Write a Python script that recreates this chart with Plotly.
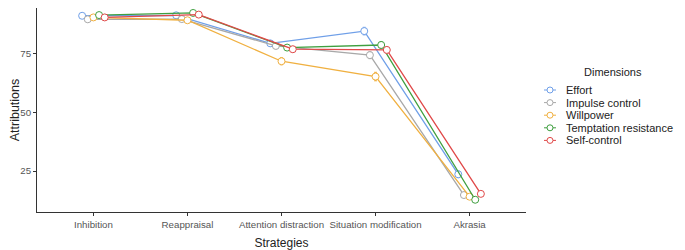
import plotly.graph_objects as go

strategies = ["Inhibition", "Reappraisal", "Attention distraction", "Situation modification", "Akrasia"]
dimensions = ["Effort", "Impulse control", "Willpower", "Temptation resistance", "Self-control"]
colors = ["#6f9fe8", "#a8a8a8", "#f0b040", "#3f9f3f", "#e04848"]

effort = [90.9, 91.1, 79.2, 84.4, 23.6]
impulse = [89.4, 89.5, 78.1, 74.2, 14.8]
willpower = [90.2, 89.0, 71.6, 65.1, 14.1]
temptation = [91.2, 92.1, 77.4, 78.5, 12.8]
selfcontrol = [90.2, 91.4, 76.7, 76.4, 15.3]

effort_se = [0.6, 0.6, 1.2, 1.6, 1.4]
impulse_se = [0.6, 0.6, 1.2, 1.5, 1.0]
willpower_se = [0.6, 0.6, 1.5, 1.8, 1.0]
temptation_se = [0.5, 0.5, 1.2, 1.4, 0.9]
selfcontrol_se = [0.6, 0.5, 1.2, 1.3, 0.9]

series = [effort, impulse, willpower, temptation, selfcontrol]
errors = [effort_se, impulse_se, willpower_se, temptation_se, selfcontrol_se]
dodge = [-0.12, -0.06, 0.0, 0.06, 0.12]

# the page body has an 8px default margin, so the figure is laid out 8px smaller
OFF = 8
W, H = 685 - OFF, 250 - OFF
ML, MR, MT, MB = 37 - OFF, 159, 0, 38
PW, PH = W - ML - MR, H - MT - MB


def px_x(p):
    return (p - OFF - ML) / PW


def px_y(p):
    return (H - MB - (p - OFF)) / PH


fig = go.Figure()
for name, vals, err, col, dx in zip(dimensions, series, errors, colors, dodge):
    fig.add_trace(go.Scatter(
        x=[i + 1 + dx for i in range(len(strategies))],
        y=vals,
        name=name,
        mode="lines+markers",
        line=dict(color=col, width=1.3),
        marker=dict(symbol="circle", size=7, color="white", line=dict(color=col, width=1)),
        error_y=dict(type="data", array=err, visible=True, color=col, thickness=1, width=1.5),
        showlegend=False,
    ))

# manual legend (compact, ggplot-like)
legend_top = 90
legend_gap = 12.6
shapes = []
annotations = [dict(
    x=px_x(613), y=px_y(72), xref="paper", yref="paper", text="Dimensions",
    showarrow=False, xanchor="center", yanchor="middle",
    font=dict(size=11, color="#222222"),
)]
for i, (name, col) in enumerate(zip(dimensions, colors)):
    yy = legend_top + i * legend_gap
    shapes.append(dict(type="line", xref="paper", yref="paper",
                       x0=px_x(544), x1=px_x(556), y0=px_y(yy), y1=px_y(yy),
                       line=dict(color=col, width=1)))
    shapes.append(dict(type="circle", xref="paper", yref="paper",
                       x0=px_x(547), x1=px_x(553), y0=px_y(yy - 3), y1=px_y(yy + 3),
                       fillcolor="white", line=dict(color=col, width=1)))
    annotations.append(dict(
        x=px_x(564), y=px_y(yy), xref="paper", yref="paper", text=name,
        showarrow=False, xanchor="left", yanchor="middle",
        font=dict(size=11, color="#222222"),
    ))

fig.update_layout(
    width=W, height=H,
    margin=dict(l=ML, r=MR, t=MT, b=MB),
    paper_bgcolor="white", plot_bgcolor="white",
    font=dict(family="Liberation Sans, Arial, sans-serif", size=10, color="#555555"),
    xaxis=dict(
        range=[0.4, 5.6], tickvals=[1, 2, 3, 4, 5], ticktext=strategies,
        showline=True, linecolor="#333333", linewidth=1, ticks="outside", ticklen=3,
        tickcolor="#333333", showgrid=False, zeroline=False, automargin=False,
        tickfont=dict(size=9.7, color="#555555"),
        title=dict(text="Strategies", font=dict(size=12, color="#222222"), standoff=9),
    ),
    yaxis=dict(
        range=[7.6, 94.2], tickvals=[25, 50, 75],
        showline=True, linecolor="#333333", linewidth=1, ticks="outside", ticklen=3,
        tickcolor="#333333", showgrid=False, zeroline=False, automargin=False,
        tickfont=dict(size=9.7, color="#555555"),
        title=dict(text="Attributions", font=dict(size=12.5, color="#222222"), standoff=10),
    ),
    shapes=shapes,
    annotations=annotations,
    showlegend=False,
)

fig.write_html("out.html")
